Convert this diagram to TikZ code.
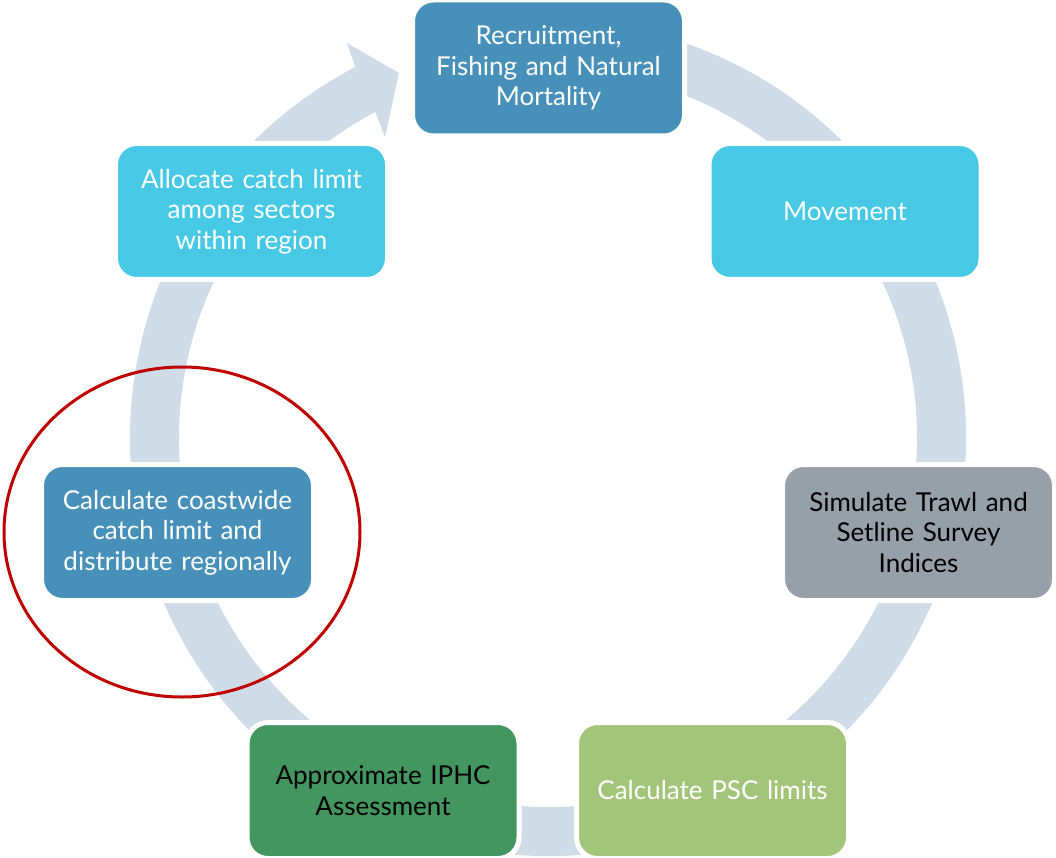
\documentclass[tikz,border=0pt]{standalone}
\usepackage{fontspec}
\setmainfont{Lato}
\begin{document}
\begin{tikzpicture}[x=1pt,y=-1pt,
  stage/.style={rounded corners=21pt, draw=white, line width=5pt,
    minimum width=272pt, minimum height=136pt, text width=262pt,
    align=center, font=\fontsize{26}{30.5}\selectfont, inner sep=0pt},
  ringcol/.style={draw=ringblue, line width=49pt},
]
\definecolor{ringblue}{HTML}{CFDBE7}
\definecolor{steel}{HTML}{4790B9}
\definecolor{sky}{HTML}{47C9E6}
\definecolor{slate}{HTML}{979FA9}
\definecolor{leaf}{HTML}{A3C57A}
\definecolor{forest}{HTML}{43965F}
\definecolor{hilite}{HTML}{C00000}
\useasboundingbox (0,0) rectangle (1056,858);
% cycle ring with arrow head
\coordinate (c) at (548,438);
\draw[ringcol] (c) ++(-80:393.5) arc[start angle=-80, end angle=242.5, radius=393.5];
\fill[ringblue] (347,43) -- (399,73) -- (385,137) -- (375.5,112.5) -- (355.5,67.5) -- cycle;
% stages
\node[stage, fill=steel, text=white]  (rec)  at (548.5,68)  {Recruitment,\\Fishing and Natural\\Mortality};
\node[stage, fill=sky, text=white]    (mov)  at (845,211.5) {Movement};
\node[stage, fill=slate, text=black]  (sim)  at (918.5,532.5) {Simulate Trawl and\\Setline Survey\\Indices};
\node[stage, fill=leaf, text=white]   (psc)  at (712.5,790.5) {Calculate PSC limits};
\node[stage, fill=forest, text=black] (iphc) at (383,790.5) {Approximate IPHC\\Assessment};
\node[stage, fill=steel, text=white]  (cst)  at (177.5,532.5) {Calculate coastwide\\catch limit and\\distribute regionally};
\node[stage, fill=sky, text=white]    (alc)  at (251.5,211.5) {Allocate catch limit\\among sectors\\within region};
% highlight
\draw[hilite, line width=3pt] (cst.center) ++(4.5,-0.5) ellipse[x radius=178, y radius=165];
\end{tikzpicture}
\end{document}
